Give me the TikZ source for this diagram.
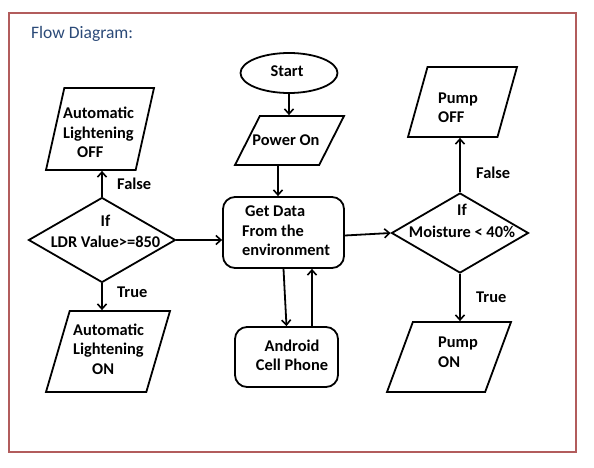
\documentclass[tikz,border=0pt]{standalone}
\usepackage{fontspec}
\setmainfont{Carlito}
\usetikzlibrary{shapes.geometric,arrows.meta,calc}
\definecolor{framecol}{RGB}{178,92,92}
\definecolor{titlecol}{RGB}{43,74,120}
\tikzset{
  shp/.style={draw=black,line width=1.8pt,inner sep=0pt,minimum size=0pt},
  para/.style n args={2}{draw=black,line width=1.8pt,inner sep=1pt,trapezium,trapezium stretches=true,trapezium left angle=#1,trapezium right angle=#2},
  rbox/.style={shp,rectangle,rounded corners=12pt},
  dmd/.style={shp,diamond},
  oval/.style={shp,ellipse},
  txt/.style={inner sep=0pt,font=\bfseries\fontsize{16.4}{19.5}\selectfont},
  lbl/.style={txt,anchor=west},
  arr/.style={line width=1.8pt,-{Straight Barb[length=5pt,width=9pt,line width=1.6pt]}},
}
\begin{document}
\begin{tikzpicture}[x=1pt,y=-1pt]
\useasboundingbox (0,0) rectangle (594,468);
\draw[framecol,line width=2.5pt] (9,13) rectangle (576,452);
\node[anchor=west,inner sep=0pt,text=titlecol,font=\fontsize{17.5}{20}\selectfont] (title) at (31,34) {Flow Diagram:};

% shapes
\node[oval,minimum width=97pt,minimum height=40pt] (start) at (289,73) {};
\node[para={67.3}{112.7},minimum width=109pt,minimum height=49pt] (power) at (289.5,140.5) {};
\node[rbox,minimum width=121pt,minimum height=71pt] (getdata) at (283.5,232.5) {};
\node[rbox,minimum width=103pt,minimum height=60pt] (android) at (286.5,357) {};
\node[dmd,minimum width=147pt,minimum height=85pt] (ldr) at (102,240) {};
\node[para={75.6}{104.4},minimum width=108pt,minimum height=82pt] (autooff) at (100,129) {};
\node[para={72.8}{107.2},minimum width=124pt,minimum height=81pt] (autoon) at (108,351.5) {};
\node[dmd,minimum width=137pt,minimum height=80pt] (moist) at (460,233) {};
\node[para={74.4}{105.6},minimum width=109pt,minimum height=70pt] (pumpoff) at (462.5,102) {};
\node[para={70.3}{109.7},minimum width=124pt,minimum height=70pt] (pumpon) at (449,357) {};

% texts
\node[txt] (tstart) at (287,71) {Start};
\node[txt] (tpower) at (286,140) {Power On};
\node[txt,anchor=west,align=left] (tget) at (242,231) {\hspace{3pt}Get Data\\From the\\environment};
\node[txt,align=center] (tandroid) at (292,355.5) {Android\\Cell Phone};
\node[txt,anchor=west,align=left] (toff) at (63,132.5) {Automatic\\Lightening\\\hspace{14pt}OFF};
\node[txt,align=center] (tldr) at (105.5,231.5) {If\hspace{11pt}\\[1.5pt]LDR Value>=850};
\node[txt,anchor=west,align=left] (ton) at (73,349) {Automatic\\Lightening\\\hspace{19pt}ON};
\node[txt,anchor=west,align=left] (tpoff) at (438,107.5) {Pump\\OFF};
\node[txt,align=center] (tmoist) at (462,221) {If\hspace{8pt}\\[2.5pt]Moisture < 40\%};
\node[txt,anchor=west,align=left] (tpon) at (438,352) {Pump\\ON};

% connector labels
\node[lbl] (lf1) at (117,184) {False};
\node[lbl] (lt1) at (117,292) {True};
\node[lbl] (lf2) at (476,173) {False};
\node[lbl] (lt2) at (476,297) {True};

% connectors
\draw[arr] (start) -- (start |- power.north);
\draw[arr] ([xshift=-11.5pt]power.south) -- ([xshift=-5.5pt]getdata.north);
\draw[arr] (getdata.south) -- (android.north);
\draw[arr] ([xshift=25.5pt]android.north) -- ([xshift=28.5pt]getdata.south);
\draw[arr] (ldr.east) -- (ldr.east -| getdata.west);
\draw[arr] ([yshift=-3pt]getdata.east) -- (moist.west);
\draw[arr] (ldr.north) -- (ldr.north |- autooff.south);
\draw[arr] (ldr.south) -- (ldr.south |- autoon.north);
\draw[arr] (moist.north) -- (moist.north |- pumpoff.south);
\draw[arr] (moist.south) -- (moist.south |- pumpon.north);
\end{tikzpicture}
\end{document}
